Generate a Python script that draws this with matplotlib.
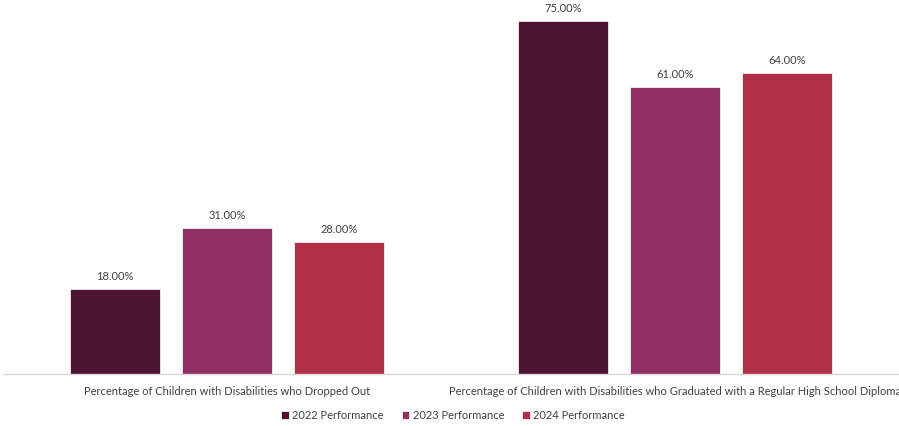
import numpy as np
import matplotlib.pyplot as plt

plt.rcParams['font.family'] = ['Lato', 'DejaVu Sans']

categories = ['Percentage of Children with Disabilities who Dropped Out',
              'Percentage of Children with Disabilities who Graduated with a Regular High School Diploma']
series_names = ['2022 Performance', '2023 Performance', '2024 Performance']
perf_2022 = [18.0, 75.0]
perf_2023 = [31.0, 61.0]
perf_2024 = [28.0, 64.0]
colors = ['#4E1433', '#8E3063', '#B03048']

fig = plt.figure(figsize=(8.99, 4.27), dpi=100)
ax = fig.add_axes([3 / 899, 52 / 427, 896 / 899, 375 / 427])

x = np.arange(len(categories))
width = 0.2
offsets = [-0.25, 0.0, 0.25]
text_color = '#404040'

for vals, name, col, off in zip([perf_2022, perf_2023, perf_2024], series_names, colors, offsets):
    bars = ax.bar(x + off, vals, width, color=col, label=name, edgecolor='white', linewidth=0.5)
    for b, v in zip(bars, vals):
        ax.annotate(f'{v:.2f}%', (b.get_x() + b.get_width() / 2, v),
                    xytext=(0, 6), textcoords='offset points',
                    ha='center', va='bottom', fontsize=8, color=text_color)

ax.set_xlim(-0.5, 1.5)
ax.set_ylim(0, 79.7)
ax.set_xticks(x)
ax.set_xticklabels(categories, fontsize=8, color=text_color)
ax.tick_params(axis='x', length=0, pad=8)
ax.set_yticks([])
for s in ['top', 'right', 'left']:
    ax.spines[s].set_visible(False)
ax.spines['bottom'].set_color('#D9D9D9')
ax.spines['bottom'].set_linewidth(1)

fig.legend(loc='center', bbox_to_anchor=(453 / 899, 11 / 427), ncol=3, frameon=False,
           fontsize=8, labelcolor=text_color, handlelength=0.7, handleheight=0.7,
           handletextpad=0.3, columnspacing=1.6)

fig.savefig('out.png', dpi=100)
